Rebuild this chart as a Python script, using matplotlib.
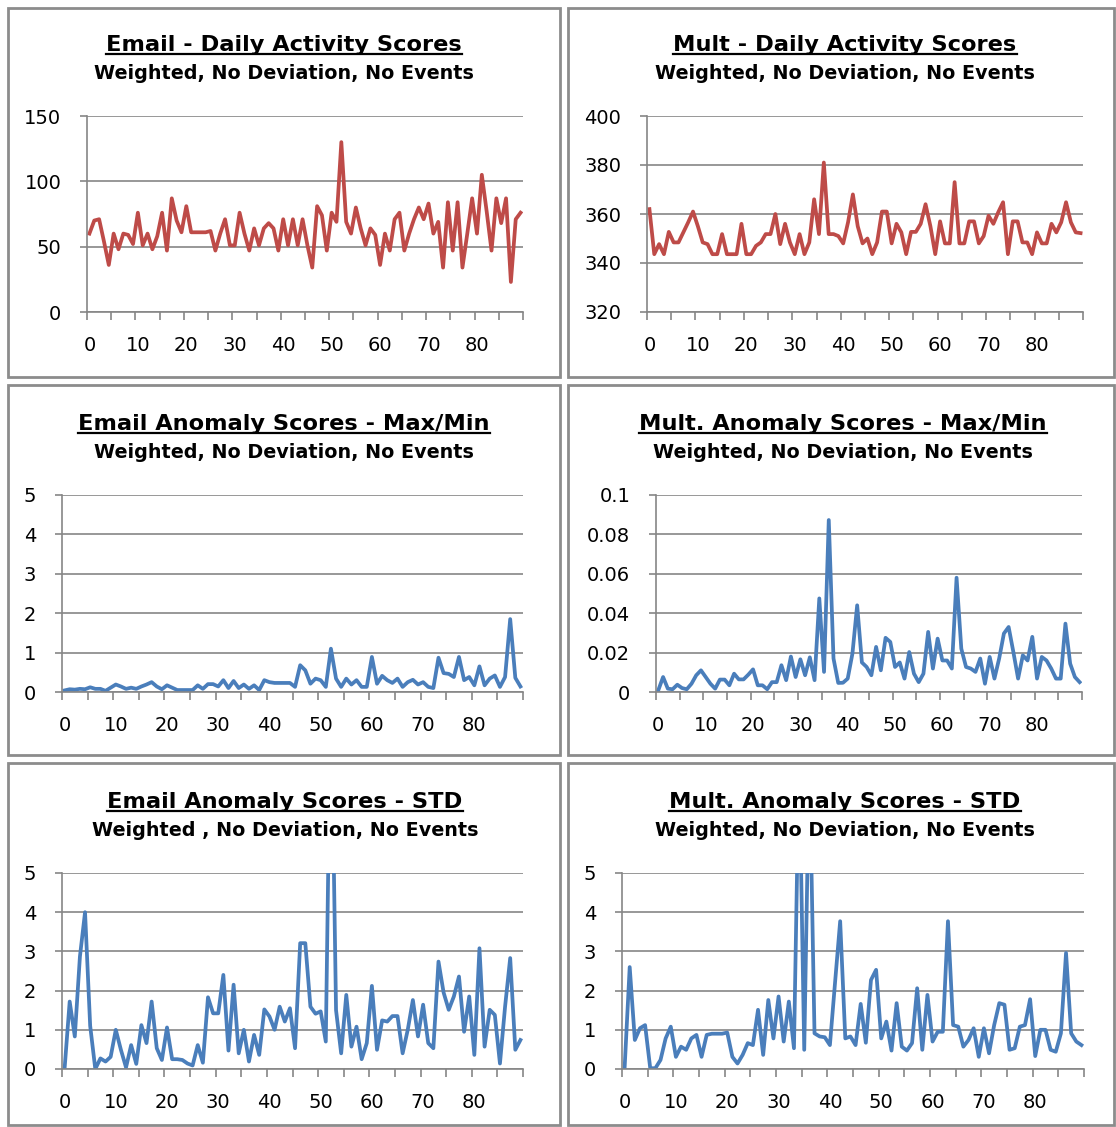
import numpy as np
import matplotlib
matplotlib.use('Agg')
import matplotlib.pyplot as plt
from matplotlib.patches import Rectangle
from matplotlib.lines import Line2D

W, H = 1116, 1127

days = np.arange(90)
xlabels = ['0', '10', '20', '30', '40', '50', '60', '70', '80']

email_daily = [60, 70, 71, 54, 36, 60, 48, 60, 59, 52,
               76, 51, 60, 48, 58, 76, 47, 87, 70, 61,
               81, 61, 61, 61, 61, 62, 47, 60, 71, 51,
               51, 76, 60, 47, 64, 51, 64, 68, 64, 47,
               71, 51, 71, 51, 71, 51, 34, 81, 74, 47,
               76, 69, 130, 69, 60, 80, 64, 51, 64, 59,
               36, 60, 47, 71, 76, 47, 60, 71, 80, 71,
               83, 60, 69, 34, 84, 47, 84, 34, 60, 87,
               60, 105, 77, 47, 87, 68, 87, 23, 71, 76]

mult_daily = [362, 343.6, 347.7, 343.6, 352.7, 348.4, 348.4, 352.5, 356.6, 361,
              355, 348.4, 347.7, 343.6, 343.6, 351.8, 343.6, 343.6, 343.6, 356,
              343.6, 343.6, 347, 348.4, 351.8, 351.8, 360, 347.7, 356, 348.4,
              343.6, 351.8, 343.6, 348.4, 366, 351.8, 381, 351.8, 351.8, 351,
              348, 356.6, 368, 355, 348, 350, 343.6, 348.4, 361, 361,
              348, 356, 352.5, 343.6, 352.7, 352.7, 356, 364, 355, 343.6,
              357, 348, 348, 373, 348, 348, 357, 357, 348, 351,
              359.3, 356, 360.7, 364.8, 343.6, 357, 357, 348.4, 348.4, 343.6,
              352.5, 348, 348, 356, 352.5, 356.6, 364.8, 356.6, 352.5, 352.2]

email_maxmin = [0.04, 0.07, 0.06, 0.08, 0.07, 0.12, 0.08, 0.08, 0.03, 0.11,
                0.19, 0.14, 0.08, 0.11, 0.08, 0.14, 0.19, 0.25, 0.14, 0.07,
                0.17, 0.11, 0.05, 0.05, 0.05, 0.05, 0.17, 0.08, 0.2, 0.2,
                0.14, 0.3, 0.1, 0.28, 0.1, 0.19, 0.08, 0.17, 0.05, 0.3,
                0.25, 0.23, 0.23, 0.23, 0.23, 0.13, 0.68, 0.55, 0.21, 0.34,
                0.3, 0.13, 1.1, 0.34, 0.13, 0.34, 0.19, 0.3, 0.13, 0.13,
                0.89, 0.21, 0.41, 0.3, 0.23, 0.34, 0.13, 0.25, 0.31, 0.19,
                0.25, 0.13, 0.1, 0.87, 0.48, 0.46, 0.38, 0.89, 0.3, 0.38,
                0.17, 0.65, 0.17, 0.34, 0.42, 0.13, 0.38, 1.85, 0.36, 0.14]

mult_maxmin = [0.001, 0.0076, 0.0017, 0.0014, 0.0037, 0.002, 0.0014, 0.0042, 0.0085, 0.011,
               0.0076, 0.0042, 0.0017, 0.0063, 0.0063, 0.0034, 0.0093, 0.0064, 0.0064, 0.0088,
               0.0115, 0.0034, 0.0034, 0.0014, 0.005, 0.005, 0.0136, 0.006, 0.018, 0.0076,
               0.0166, 0.0085, 0.0176, 0.006, 0.0475, 0.0102, 0.0873, 0.017, 0.0046, 0.0047,
               0.0068, 0.0195, 0.044, 0.015, 0.0127, 0.0085, 0.0229, 0.011, 0.0275, 0.0254,
               0.0127, 0.015, 0.0068, 0.0203, 0.0093, 0.005, 0.0093, 0.0305, 0.0119, 0.0271,
               0.016, 0.016, 0.0119, 0.058, 0.022, 0.0127, 0.0119, 0.0102, 0.017, 0.0042,
               0.0178, 0.0068, 0.017, 0.0297, 0.033, 0.0203, 0.0068, 0.0186, 0.016, 0.028,
               0.0068, 0.0178, 0.016, 0.0119, 0.0068, 0.0068, 0.0347, 0.0144, 0.0076, 0.005]

email_std = [0.0, 1.72, 0.83, 2.87, 4.0, 1.1, 0.0, 0.27, 0.19, 0.31,
             1.0, 0.49, 0.04, 0.61, 0.13, 1.12, 0.66, 1.72, 0.53, 0.23,
             1.06, 0.25, 0.25, 0.23, 0.14, 0.09, 0.61, 0.16, 1.83, 1.42,
             1.42, 2.4, 0.47, 2.15, 0.4, 1.0, 0.19, 0.87, 0.36, 1.52,
             1.34, 1.0, 1.59, 1.21, 1.55, 0.53, 3.21, 3.21, 1.59, 1.41,
             1.47, 0.7, 10.0, 1.5, 0.4, 1.89, 0.57, 1.08, 0.25, 0.66,
             2.12, 0.49, 1.24, 1.21, 1.35, 1.35, 0.4, 1.0, 1.76, 0.83,
             1.64, 0.66, 0.53, 2.74, 1.95, 1.51, 1.85, 2.36, 0.95, 1.85,
             0.36, 3.08, 0.57, 1.51, 1.38, 0.14, 1.59, 2.83, 0.49, 0.74]

mult_std = [0.0, 2.6, 0.74, 1.04, 1.12, 0.02, 0.02, 0.23, 0.78, 1.08,
            0.31, 0.57, 0.49, 0.78, 0.87, 0.31, 0.87, 0.9, 0.9, 0.9,
            0.93, 0.31, 0.14, 0.36, 0.66, 0.61, 1.51, 0.36, 1.76, 0.78,
            1.85, 0.7, 1.72, 0.53, 8.0, 0.49, 8.0, 0.91, 0.83, 0.81,
            0.61, 2.2, 3.77, 0.78, 0.83, 0.61, 1.66, 0.67, 2.27, 2.53,
            0.78, 1.21, 0.47, 1.68, 0.57, 0.47, 0.66, 2.06, 0.49, 1.89,
            0.7, 0.95, 0.95, 3.77, 1.12, 1.08, 0.57, 0.74, 1.04, 0.31,
            1.04, 0.4, 1.12, 1.68, 1.64, 0.49, 0.53, 1.08, 1.12, 1.78,
            0.33, 1.0, 1.0, 0.49, 0.44, 0.91, 2.96, 0.91, 0.7, 0.61]

titles = ['Email - Daily Activity Scores', 'Mult - Daily Activity Scores',
          'Email Anomaly Scores - Max/Min', 'Mult. Anomaly Scores - Max/Min',
          'Email Anomaly Scores - STD', 'Mult. Anomaly Scores - STD']
subtitles = ['Weighted, No Deviation, No Events', 'Weighted, No Deviation, No Events',
             'Weighted, No Deviation, No Events', 'Weighted, No Deviation, No Events',
             'Weighted , No Deviation, No Events', 'Weighted, No Deviation, No Events']

yticks_daily_email = [0, 50, 100, 150]
yticks_daily_mult = [320, 340, 360, 380, 400]
yticks_std = [0, 1, 2, 3, 4, 5]
yticks_mult_mm = [0, 0.02, 0.04, 0.06, 0.08, 0.1]
yticklabels_mult_mm = ['0', '0.02', '0.04', '0.06', '0.08', '0.1']

red = '#be4b48'
blue = '#4a7ebb'
grey = '#868686'

# panel: data, colour, yticks, yticklabels, plot area (left, top, right, bottom) px,
# box (left, top, right, bottom) px, title centre x, title baseline y
panels = [
    (email_daily, red, yticks_daily_email, None, (87, 116, 523, 312), (8, 8, 560, 377), 284, 51),
    (mult_daily, red, yticks_daily_mult, None, (647, 116, 1083, 312), (568, 8, 1114, 377), 845, 51),
    (email_maxmin, blue, yticks_std, None, (62, 495, 523, 692), (8, 385, 560, 755), 284, 430),
    (mult_maxmin, blue, yticks_mult_mm, yticklabels_mult_mm, (656, 495, 1082, 692), (568, 385, 1114, 755), 843, 430),
    (email_std, blue, yticks_std, None, (62, 873, 523, 1069), (8, 763, 560, 1125), 285, 808),
    (mult_std, blue, yticks_std, None, (622, 873, 1084, 1069), (568, 763, 1114, 1125), 845, 808),
]

fig = plt.figure(figsize=(W/100., H/100.), dpi=100)

title_texts = []
for k, (data, col, yt, ytl, area, box, tx, ty) in enumerate(panels):
	l, t, r, b = area
	ax = fig.add_axes([l/W, 1 - b/H, (r - l)/W, (b - t)/H])
	ax.plot(days, data, c=col, lw=2.7, solid_joinstyle='round')
	ax.set_xlim(-0.5, 89.5)
	ax.set_ylim(yt[0], yt[-1])
	ax.set_yticks(yt)
	if ytl is not None:
		ax.set_yticklabels(ytl)
	ax.yaxis.grid(True, color=grey, lw=1.2)
	ax.set_axisbelow(True)
	for s in ['top', 'right']:
		ax.spines[s].set_visible(False)
	for s in ['left', 'bottom']:
		ax.spines[s].set_color(grey)
		ax.spines[s].set_linewidth(1.2)
	ax.set_xticks(np.arange(-0.5, 90, 5))
	ax.set_xticklabels([])
	ax.set_xticks(np.arange(0, 90, 10), minor=True)
	ax.set_xticklabels(xlabels, minor=True)
	ax.tick_params(axis='x', which='major', length=6, width=1.2, color=grey)
	ax.tick_params(axis='x', which='minor', length=0, pad=17, labelsize=14)
	ax.tick_params(axis='y', length=5, width=1.2, color=grey, pad=13.5, labelsize=14)

	fig.patches.append(Rectangle((box[0]/W, 1 - box[3]/H), (box[2] - box[0])/W, (box[3] - box[1])/H,
	                             transform=fig.transFigure, fill=False, ec='#8c8c8c', lw=2))
	txt = fig.text(tx/W, 1 - ty/H, titles[k], ha='center', va='baseline',
	               fontsize=16.2, fontweight='bold')
	title_texts.append((txt, ty))
	fig.text(tx/W, 1 - (ty + 28)/H, subtitles[k], ha='center', va='baseline',
	         fontsize=13.8, fontweight='bold')

# underline the titles
fig.canvas.draw()
renderer = fig.canvas.get_renderer()
for txt, ty in title_texts:
	bb = txt.get_window_extent(renderer)
	uy = 1 - (ty + 3)/H
	fig.lines.append(Line2D([bb.x0/W, bb.x1/W], [uy, uy], transform=fig.transFigure, c='k', lw=1.6))

fig.savefig('out.png', dpi=100)
